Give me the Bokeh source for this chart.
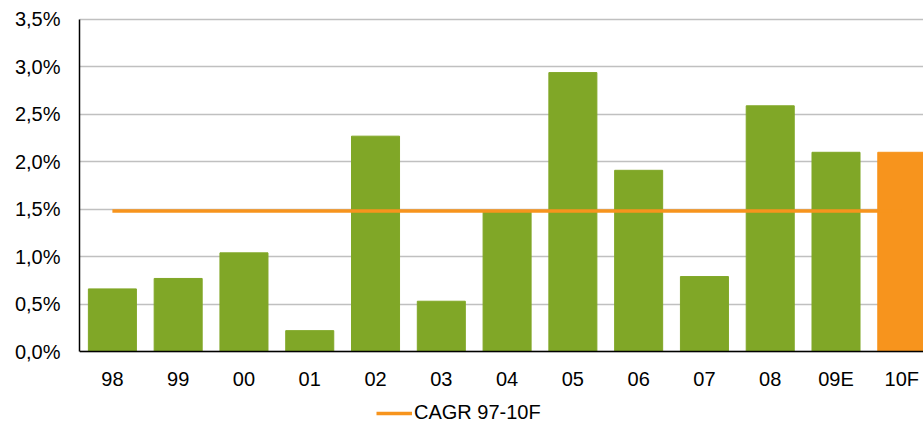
from bokeh.plotting import figure
from bokeh.models import (ColumnDataSource, FixedTicker, Legend, LegendItem, Range1d,
                          CustomJSTickFormatter, LinearAxis)
from bokeh.embed import file_html
from bokeh.resources import INLINE

categories = ["98", "99", "00", "01", "02", "03", "04", "05", "06", "07", "08", "09E", "10F"]
growth = [0.66, 0.77, 1.04, 0.22, 2.27, 0.53, 1.47, 2.94, 1.91, 0.79, 2.59, 2.10, 2.10]
cagr = 1.48
y_ticks = [0.0, 0.5, 1.0, 1.5, 2.0, 2.5, 3.0, 3.5]

GREEN = "#80A727"
ORANGE = "#F7941D"
FONT = "Liberation Sans"

xs = list(range(len(categories)))
colors = [GREEN] * (len(categories) - 1) + [ORANGE]

p = figure(width=923, height=425, output_backend="svg", toolbar_location=None,
           x_range=Range1d(-0.5, 12.33), y_range=Range1d(-0.78, 3.70),
           x_axis_location=None,
           min_border_left=79, min_border_right=0, min_border_top=0, min_border_bottom=0)
p.outline_line_color = None
p.background_fill_color = "white"

src = ColumnDataSource(dict(x=xs, top=growth, color=colors))
p.vbar(x="x", top="top", width=0.73, color="color", source=src)

cagr_line = p.line(x=[xs[0], xs[-1]], y=[cagr, cagr], line_color=ORANGE, line_width=3.5)

# x axis fixed at 0 %
xaxis = LinearAxis(fixed_location=0)
xaxis.ticker = FixedTicker(ticks=xs)
xaxis.major_label_overrides = {i: c for i, c in enumerate(categories)}
xaxis.major_tick_line_color = None
xaxis.minor_tick_line_color = None
xaxis.axis_line_color = "black"
xaxis.axis_line_width = 1.5
xaxis.major_label_text_font = FONT
xaxis.major_label_text_font_size = "20px"
xaxis.major_label_text_color = "black"
xaxis.major_label_standoff = 10
p.add_layout(xaxis, "below")

p.yaxis.ticker = FixedTicker(ticks=y_ticks)
p.yaxis.bounds = (0, 3.5)
p.yaxis.formatter = CustomJSTickFormatter(code="return tick.toFixed(1).replace('.', ',') + '%';")
p.yaxis.major_tick_line_color = None
p.yaxis.minor_tick_line_color = None
p.yaxis.axis_line_color = "black"
p.yaxis.axis_line_width = 1.5
p.yaxis.major_label_text_font = FONT
p.yaxis.major_label_text_font_size = "20px"
p.yaxis.major_label_text_color = "black"
p.yaxis.major_label_standoff = 13

p.xgrid.grid_line_color = None
p.ygrid.ticker = FixedTicker(ticks=y_ticks)
p.ygrid.grid_line_color = "#C0C0C0"
p.ygrid.grid_line_width = 1.5

legend = Legend(items=[LegendItem(label="CAGR 97-10F", renderers=[cagr_line])],
                orientation="horizontal", location=(297, 1),
                label_text_font=FONT, label_text_font_size="20px", label_text_color="black",
                glyph_width=36, glyph_height=20, label_height=20, label_standoff=2,
                padding=0, margin=0, spacing=0, border_line_color=None,
                background_fill_alpha=0)
p.add_layout(legend, "center")

open("out.html", "w").write(file_html(p, INLINE))
